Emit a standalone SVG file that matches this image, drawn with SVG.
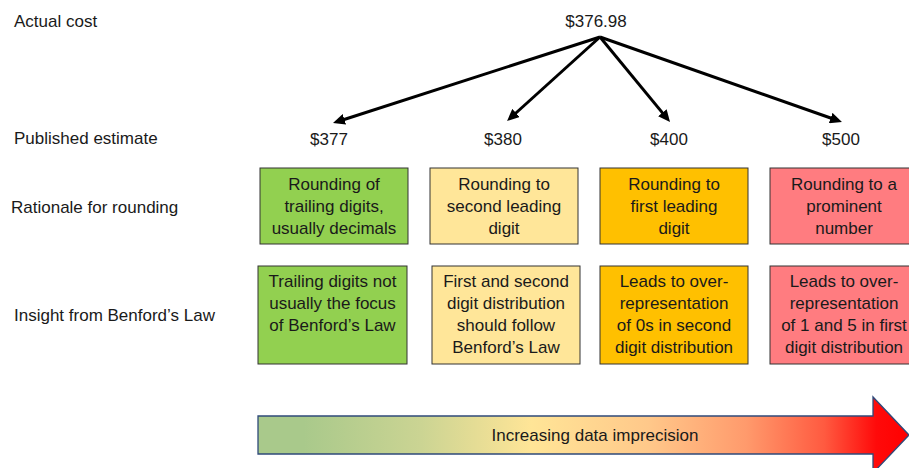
<svg xmlns="http://www.w3.org/2000/svg" width="909" height="468" viewBox="0 0 909 468">
<style>
text{font-family:"Liberation Sans",Arial,sans-serif;font-size:17px;fill:#1a1a1a}
.c{text-anchor:middle}
.box{stroke:#333;stroke-width:1}
.g{fill:#92D050}.y{fill:#FFE699}.o{fill:#FFC000}.r{fill:#FF7C80}
.ln{stroke:#000;stroke-width:3;fill:none;marker-end:url(#ah)}
</style>
<defs>
<marker id="ah" markerUnits="userSpaceOnUse" markerWidth="12" markerHeight="11" refX="6" refY="5.5" orient="auto">
<path d="M0,0 L12,5.5 L0,11 z" fill="#000"/>
</marker>
<linearGradient id="grad" gradientUnits="userSpaceOnUse" x1="258" y1="0" x2="909" y2="0">
<stop offset="0" stop-color="#A9C98B"/>
<stop offset="0.07" stop-color="#A9C98B"/>
<stop offset="0.25" stop-color="#CBD493"/>
<stop offset="0.42" stop-color="#FFE597"/>
<stop offset="0.6" stop-color="#FFC88A"/>
<stop offset="0.75" stop-color="#FF9A6C"/>
<stop offset="0.87" stop-color="#FF5A40"/>
<stop offset="0.95" stop-color="#FF0A0A"/>
<stop offset="1" stop-color="#FF0000"/>
</linearGradient>
</defs>
<g id="row-labels">
<text x="14" y="27">Actual cost</text>
<text x="14" y="144">Published estimate</text>
<text x="11" y="213">Rationale for rounding</text>
<text x="14" y="321">Insight from Benford’s Law</text>
</g>
<g id="actual"><text class="c" x="596" y="27">$376.98</text></g>
<g id="est377"><text class="c" x="329" y="145">$377</text></g>
<g id="est380"><text class="c" x="503" y="145">$380</text></g>
<g id="est400"><text class="c" x="669" y="145">$400</text></g>
<g id="est500"><text class="c" x="841" y="145">$500</text></g>
<g id="connectors">
<line class="ln" x1="600" y1="37" x2="338.7" y2="121.2"/>
<line class="ln" x1="600" y1="37" x2="511.5" y2="117"/>
<line class="ln" x1="600" y1="37" x2="666.2" y2="117.4"/>
<line class="ln" x1="600" y1="37" x2="836.3" y2="120"/>
</g>
<g id="rat1"><rect class="box g" x="260" y="168" width="148" height="76"/>
<text class="c" x="334" y="190">Rounding of</text><text class="c" x="334" y="212">trailing digits,</text><text class="c" x="334" y="234">usually decimals</text></g>
<g id="rat2"><rect class="box y" x="430" y="168" width="148" height="76"/>
<text class="c" x="504" y="190">Rounding to</text><text class="c" x="504" y="212">second leading</text><text class="c" x="504" y="234">digit</text></g>
<g id="rat3"><rect class="box o" x="600" y="168" width="148" height="76"/>
<text class="c" x="674" y="190">Rounding to</text><text class="c" x="674" y="212">first leading</text><text class="c" x="674" y="234">digit</text></g>
<g id="rat4"><rect class="box r" x="770" y="168" width="148" height="76"/>
<text class="c" x="844" y="190">Rounding to a</text><text class="c" x="844" y="212">prominent</text><text class="c" x="844" y="234">number</text></g>
<g id="ins1"><rect class="box g" x="258" y="266" width="149" height="98"/>
<text class="c" x="332.5" y="287">Trailing digits not</text><text class="c" x="332.5" y="309">usually the focus</text><text class="c" x="332.5" y="331">of Benford’s Law</text></g>
<g id="ins2"><rect class="box y" x="432" y="266" width="148" height="98"/>
<text class="c" x="506" y="287">First and second</text><text class="c" x="506" y="309">digit distribution</text><text class="c" x="506" y="331">should follow</text><text class="c" x="506" y="353">Benford’s Law</text></g>
<g id="ins3"><rect class="box o" x="600" y="266" width="148" height="98"/>
<text class="c" x="674" y="287">Leads to over-</text><text class="c" x="674" y="309">representation</text><text class="c" x="674" y="331">of 0s in second</text><text class="c" x="674" y="353">digit distribution</text></g>
<g id="ins4"><rect class="box r" x="770" y="266" width="148" height="98"/>
<text class="c" x="844" y="287">Leads to over-</text><text class="c" x="844" y="309">representation</text><text class="c" x="844" y="331">of 1 and 5 in first</text><text class="c" x="844" y="353">digit distribution</text></g>
<g id="imprecision-arrow">
<path d="M258,416 L873,416 L873,397 L909,435 L873,473 L873,454 L258,454 Z" fill="url(#grad)" stroke="#2F4A7A" stroke-width="1.3"/>
<text class="c" x="595" y="441">Increasing data imprecision</text>
</g>
</svg>
